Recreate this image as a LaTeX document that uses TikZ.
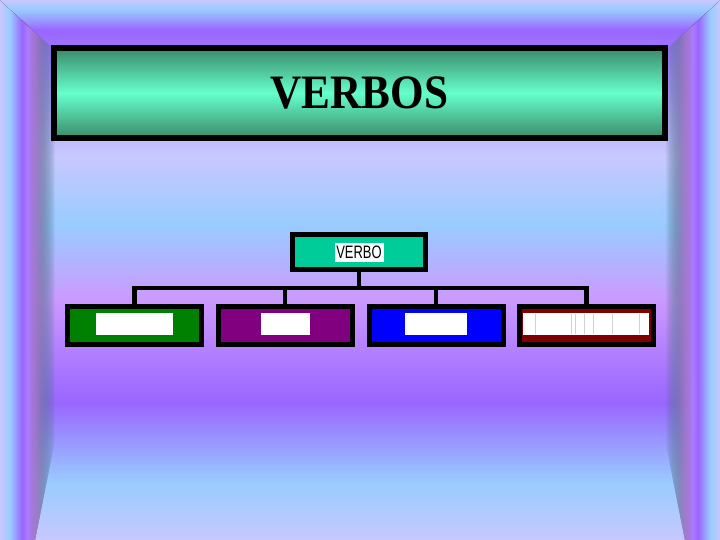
\documentclass[tikz,border=0pt]{standalone}
\usepackage{fontspec}
\setmainfont{Liberation Serif}
\setsansfont{Liberation Sans}
\usepackage{xcolor}
\usepackage{tikz}
\usetikzlibrary{fadings}

\definecolor{lavend}{HTML}{C8C8FF}
\definecolor{skyblu}{HTML}{99CCFF}
\definecolor{deepvio}{HTML}{9966FF}
\definecolor{pinkvio}{HTML}{CC99FF}
\definecolor{tealdark}{HTML}{3A8A6A}
\definecolor{teallight}{HTML}{66FFCC}
\definecolor{rootfill}{HTML}{00CC99}
\definecolor{hverde}{HTML}{008000}
\definecolor{hmorado}{HTML}{800080}
\definecolor{hazul}{HTML}{0000FF}
\definecolor{hgranate}{HTML}{800000}

% background: path box is mapped to 25bp..75bp
\pgfdeclareverticalshading{backdrop}{100bp}{color(0bp)=(lavend); color(25bp)=(lavend);
  color(30.3bp)=(skyblu); color(37.7bp)=(deepvio); color(47.2bp)=(pinkvio);
  color(54.2bp)=(skyblu); color(60.6bp)=(lavend); color(72.2bp)=(deepvio);
  color(74.1bp)=(skyblu); color(75bp)=(lavend); color(100bp)=(lavend)}
\pgfdeclarehorizontalshading{frameleft}{100bp}{color(0bp)=(lavend); color(25bp)=(lavend);
  color(34bp)=(skyblu); color(45bp)=(deepvio); color(57.7bp)=(pinkvio);
  color(68.6bp)=(skyblu); color(75bp)=(skyblu); color(100bp)=(skyblu)}
\pgfdeclarehorizontalshading{frameright}{100bp}{color(0bp)=(skyblu); color(25bp)=(skyblu);
  color(31.4bp)=(skyblu); color(42.3bp)=(pinkvio); color(55bp)=(deepvio);
  color(66bp)=(skyblu); color(75bp)=(lavend); color(100bp)=(lavend)}
\tikzfading[name=fadeleft, left color=transparent!0, right color=transparent!100, middle color=transparent!0]
\tikzfading[name=faderight, left color=transparent!100, right color=transparent!0, middle color=transparent!0]

\begin{document}
\begin{tikzpicture}[x=1pt, y=-1pt,
		titlebox/.style={draw, line width=5.5pt, minimum width=611pt, minimum height=90pt,
			top color=tealdark, bottom color=tealdark, middle color=teallight,
			font=\fontsize{48}{50}\selectfont\bfseries},
		rootbox/.style={draw, line width=5pt, fill=rootfill, minimum width=133pt, minimum height=35pt},
		childbox/.style={draw, line width=5pt, minimum width=134pt, minimum height=38pt},
		tag/.style={fill=white, inner sep=0pt, minimum height=22pt},
		branch/.style={line width=4.5pt},
		faintline/.style={draw=black!18, line width=0.6pt}]
		\useasboundingbox (0,0) rectangle (720,540);
		% backdrop
		\fill[shading=backdrop] (0,0) rectangle (720,540);
		\fill[shading=frameleft, path fading=fadeleft] (0,0) -- (55,50) -- (55,440) -- (35,540) -- (0,540) -- cycle;
		\fill[shading=frameright, path fading=faderight] (720,0) -- (665,50) -- (665,440) -- (685,540) -- (720,540) -- cycle;
		%
		\node[titlebox] (titulo) at (359.5,93) {\scalebox{0.9}[1]{VERBOS}}; % Title bar
		%
		\node[rootbox] (verbo) at (359,252) {};
		\node[tag, minimum width=49pt, minimum height=19pt, font=\sffamily\fontsize{18}{18}\selectfont] (verbotag) at (verbo) {\scalebox{0.72}[1]{VERBO}};
		\coordinate (rama) at (359,288);
		%
		\node[childbox, fill=hverde] (verde) at (134.5,325.5) {};
		\node[childbox, fill=hmorado] (morado) at (285,325.5) {};
		\node[childbox, fill=hazul] (azul) at (436,325.5) {};
		\node[childbox, fill=hgranate] (granate) at (586.5,325.5) {};
		\node[tag, minimum width=77pt] (verdetag) at (134.5,324) {};
		\node[tag, minimum width=49pt] (moradotag) at (285.5,324) {};
		\node[tag, minimum width=62pt] (azultag) at (436,324) {};
		\node[tag, minimum width=126pt] (granatetag) at (586,324) {};
		\foreach \x in {535,571,575,584,593,612,639} \draw[faintline] (\x,314) -- (\x,334);
		% Drawing the edges
		\draw[branch] (verbo) -- (rama);
		\foreach \k in {verde,morado,azul,granate} \draw[branch] (rama) -| (\k);
	\end{tikzpicture}
\end{document}
